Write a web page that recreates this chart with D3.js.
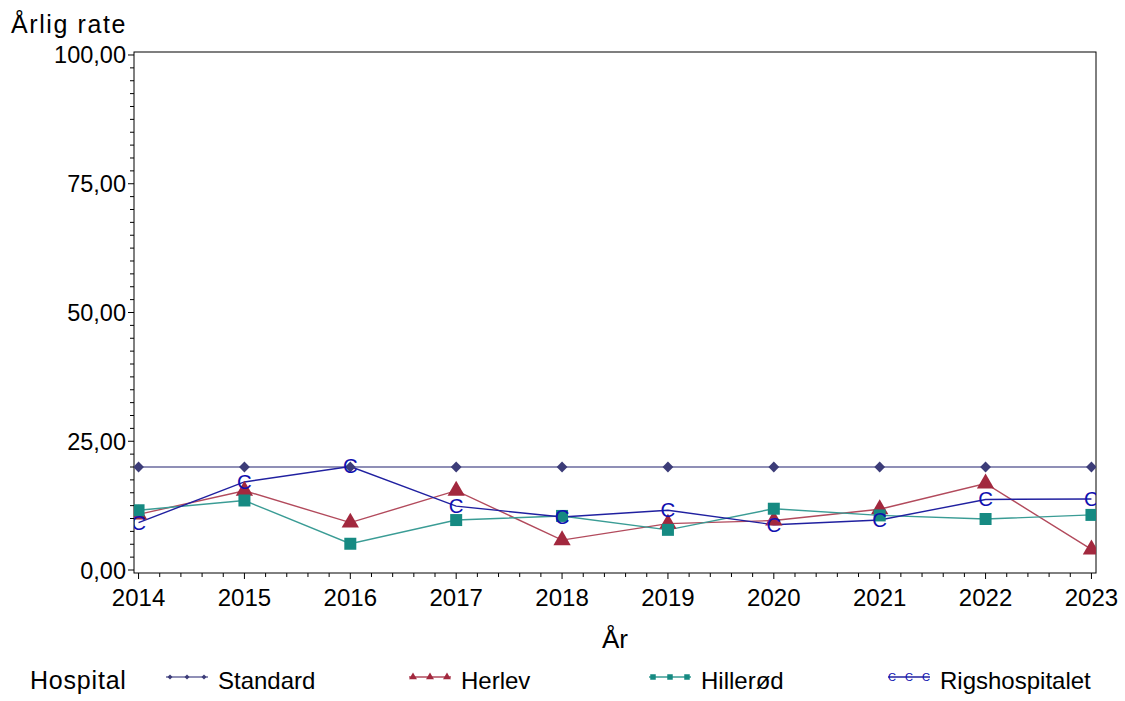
<!DOCTYPE html>
<html>
<head>
<meta charset="utf-8">
<script src="https://cdn.jsdelivr.net/npm/d3@7"></script>
<style>
  body { margin: 0; background: #fff; }
  text { font-family: "Liberation Sans", Arial, sans-serif; fill: #000; }
</style>
</head>
<body>
<div id="chart"></div>
<script>
// data
var years = [2014, 2015, 2016, 2017, 2018, 2019, 2020, 2021, 2022, 2023];
var standard = [20, 20, 20, 20, 20, 20, 20, 20, 20, 20];
var herlev = [10.8, 15.4, 9.2, 15.4, 5.8, 9.0, 9.6, 11.8, 16.8, 4.0];
var hilleroed = [11.6, 13.5, 5.1, 9.7, 10.5, 7.8, 11.9, 10.6, 9.9, 10.7];
var rigs = [9.2, 17.1, 20.1, 12.4, 10.3, 11.6, 8.8, 9.7, 13.7, 13.8];
var yTicks = [0, 25, 50, 75, 100];
var seriesNames = ["Standard", "Herlev", "Hillerød", "Rigshospitalet"];

var width = 1125, height = 701;
var plot = {left: 134, right: 1096, top: 52, bottom: 573};

var series = [
  {name: seriesNames[0], values: standard, line: "#6a6a9e", mark: "#3c3c78", sym: "diamond"},
  {name: seriesNames[1], values: herlev, line: "#b24a5c", mark: "#a2283e", sym: "triangle"},
  {name: seriesNames[2], values: hilleroed, line: "#3a9c95", mark: "#168a82", sym: "square"},
  {name: seriesNames[3], values: rigs, line: "#2020a0", mark: "#1010b0", sym: "C"}
];

var svg = d3.select("#chart").append("svg")
  .attr("width", width)
  .attr("height", height);

var x = d3.scaleLinear().domain([2013.957, 2023.043]).range([plot.left, plot.right]);
var y = d3.scaleLinear().domain([-0.58, 100.58]).range([plot.bottom, plot.top]);

svg.append("defs").append("clipPath").attr("id", "clip")
  .append("rect")
  .attr("x", plot.left).attr("y", plot.top)
  .attr("width", plot.right - plot.left).attr("height", plot.bottom - plot.top);

// frame
svg.append("rect")
  .attr("x", plot.left).attr("y", plot.top)
  .attr("width", plot.right - plot.left).attr("height", plot.bottom - plot.top)
  .attr("fill", "none").attr("stroke", "#000").attr("stroke-width", 1);

// y axis
var yMinor = d3.range(0, 100.01, 2.5);
svg.append("g").selectAll("line").data(yMinor).enter().append("line")
  .attr("x1", function (d) { return d % 25 === 0 ? plot.left - 6 : plot.left - 4; })
  .attr("x2", plot.left)
  .attr("y1", function (d) { return y(d); })
  .attr("y2", function (d) { return y(d); })
  .attr("stroke", "#000");

svg.append("g").selectAll("text").data(yTicks).enter().append("text")
  .attr("x", 126)
  .attr("y", function (d) { return y(d) + 8.5; })
  .attr("text-anchor", "end")
  .style("font-size", "23.5px")
  .text(function (d) { return d3.format(".2f")(d).replace(".", ","); });

// x axis
var xMinor = d3.range(0, 45.01, 1).map(function (i) { return 2014 + i * 0.2; });
svg.append("g").selectAll("line").data(xMinor).enter().append("line")
  .attr("x1", function (d) { return x(d); })
  .attr("x2", function (d) { return x(d); })
  .attr("y1", plot.bottom)
  .attr("y2", function (d, i) { return i % 5 === 0 ? plot.bottom + 6 : plot.bottom + 4; })
  .attr("stroke", "#000");

svg.append("g").selectAll("text").data(years).enter().append("text")
  .attr("x", function (d) { return x(d); })
  .attr("y", 606)
  .attr("text-anchor", "middle")
  .style("font-size", "24px")
  .text(function (d) { return d; });

svg.append("text")
  .attr("x", 615).attr("y", 648)
  .attr("text-anchor", "middle")
  .style("font-size", "26px")
  .text("År");

svg.append("text")
  .attr("x", 11).attr("y", 33)
  .style("font-size", "25px")
  .style("letter-spacing", "1.6px")
  .text("Årlig rate");

// markers
function drawMarker(g, sym, color, cx, cy, size) {
  if (sym === "C") {
    g.append("text")
      .attr("x", cx).attr("y", cy)
      .attr("text-anchor", "middle")
      .attr("dominant-baseline", "central")
      .style("font-size", size * 1.7 + "px")
      .style("fill", color)
      .text("C");
    return;
  }
  if (sym === "diamond") {
    var h = size * 0.45;
    g.append("path")
      .attr("d", "M" + cx + "," + (cy - h) + "L" + (cx + h) + "," + cy + "L" + cx + "," + (cy + h) + "L" + (cx - h) + "," + cy + "Z")
      .attr("fill", color);
    return;
  }
  var type = sym === "triangle" ? d3.symbolTriangle : d3.symbolSquare;
  var area = sym === "triangle" ? size * size * 0.9 : size * size;
  g.append("path")
    .attr("transform", "translate(" + cx + "," + cy + ")")
    .attr("d", d3.symbol().type(type).size(area)())
    .attr("fill", color);
}

var line = d3.line()
  .x(function (d, i) { return x(years[i]); })
  .y(function (d) { return y(d); });

var plotG = svg.append("g").attr("clip-path", "url(#clip)");

series.forEach(function (s) {
  plotG.append("path")
    .datum(s.values)
    .attr("d", line)
    .attr("fill", "none")
    .attr("stroke", s.line)
    .attr("stroke-width", 1.4);
});

series.forEach(function (s) {
  s.values.forEach(function (v, i) {
    drawMarker(plotG, s.sym, s.mark, x(years[i]), y(v), 12);
  });
});

// legend
svg.append("text")
  .attr("x", 30).attr("y", 689)
  .style("font-size", "25px")
  .style("letter-spacing", "0.8px")
  .text("Hospital");

var legendX = [166, 409, 649, 888];
series.forEach(function (s, i) {
  var g = svg.append("g");
  var x0 = legendX[i];
  g.append("line")
    .attr("x1", x0).attr("x2", x0 + 42)
    .attr("y1", 677).attr("y2", 677)
    .attr("stroke", s.line).attr("stroke-width", 1.6);
  [x0 + 4, x0 + 21, x0 + 38].forEach(function (mx) {
    drawMarker(g, s.sym, s.mark, mx, 677, s.sym === "C" ? 6.5 : 5.5);
  });
  g.append("text")
    .attr("x", x0 + 52).attr("y", 689)
    .style("font-size", "24px")
    .text(s.name);
});
</script>
</body>
</html>
